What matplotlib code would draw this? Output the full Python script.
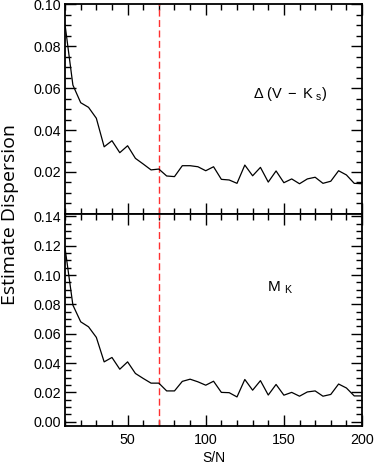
import numpy as np
import matplotlib
matplotlib.use("Agg")
import matplotlib.pyplot as plt
from matplotlib.ticker import MultipleLocator

plt.rcParams["font.family"] = ["Liberation Sans", "DejaVu Sans"]
plt.rcParams["mathtext.fontset"] = "custom"
plt.rcParams["mathtext.rm"] = "Liberation Sans"
plt.rcParams["mathtext.it"] = "Liberation Sans"
plt.rcParams["mathtext.default"] = "regular"

# S/N grid
sn = np.arange(10, 201, 5)

# dispersion of Delta(V - Ks)
disp_vk = [0.0900, 0.0614, 0.0530, 0.0508, 0.0456, 0.0320, 0.0349, 0.0292,
           0.0325, 0.0265, 0.0238, 0.0210, 0.0214, 0.0181, 0.0178, 0.0230,
           0.0230, 0.0225, 0.0206, 0.0225, 0.0165, 0.0162, 0.0146, 0.0233,
           0.0182, 0.0222, 0.0152, 0.0205, 0.0149, 0.0167, 0.0144, 0.0167,
           0.0175, 0.0146, 0.0156, 0.0206, 0.0186, 0.0146, 0.0144]

# dispersion of M_K
disp_mk = [0.1182, 0.0795, 0.0681, 0.0647, 0.0575, 0.0408, 0.0438, 0.0358,
           0.0408, 0.0329, 0.0295, 0.0263, 0.0263, 0.0210, 0.0210, 0.0275,
           0.0290, 0.0272, 0.0249, 0.0276, 0.0200, 0.0198, 0.0169, 0.0288,
           0.0215, 0.0280, 0.0182, 0.0254, 0.0181, 0.0200, 0.0174, 0.0203,
           0.0210, 0.0174, 0.0186, 0.0257, 0.0230, 0.0176, 0.0176]

sn_cut = 70

fig = plt.figure(figsize=(3.74, 4.75), dpi=100)
ax1 = fig.add_axes([0.174, 0.5495, 0.794, 0.442])
ax2 = fig.add_axes([0.174, 0.1032, 0.794, 0.4463])

for ax in (ax1, ax2):
    ax.set_xlim(10, 200)
    ax.axvline(sn_cut, color="#ff3030", ls=(0, (5, 2.5)), lw=1.0)
    ax.xaxis.set_major_locator(MultipleLocator(50))
    ax.xaxis.set_minor_locator(MultipleLocator(10))
    ax.yaxis.set_minor_locator(MultipleLocator(0.005))
    ax.tick_params(which="both", direction="in", top=True, right=True,
                   labelsize=10.3, width=1.0, pad=3)
    ax.tick_params(which="major", length=8)
    ax.tick_params(which="minor", length=4)
    for s in ax.spines.values():
        s.set_linewidth(1.3)

ax1.plot(sn, disp_vk, color="black", lw=0.9)
ax1.set_ylim(0, 0.10)
ax1.set_yticks([0.02, 0.04, 0.06, 0.08, 0.10])
ax1.set_yticklabels(["0.02", "0.04", "0.06", "0.08", "0.10"])
ax1.tick_params(labelbottom=False)
ax1.text(130, 0.0571, r"$\Delta\ (V\ -\ K_{\ s})$", fontsize=10.5, va="center")

ax2.plot(sn, disp_mk, color="black", lw=0.9)
ax2.set_ylim(-0.0029, 0.1416)
ax2.set_yticks(np.arange(0, 0.141, 0.02))
ax2.set_yticklabels(["%.2f" % v for v in np.arange(0, 0.141, 0.02)])
ax2.tick_params(axis="x", pad=5)
ax2.text(139.5, 0.0911, r"$M\ _{K}$", fontsize=11, va="center")
ax2.set_xlabel("S/N", fontsize=10, labelpad=3)

fig.text(0.027, 0.548, "Estimate Dispersion", rotation=90, ha="center",
         va="center", fontsize=14, family=["Open Sans", "DejaVu Sans"])

fig.savefig("out.png", dpi=100)
